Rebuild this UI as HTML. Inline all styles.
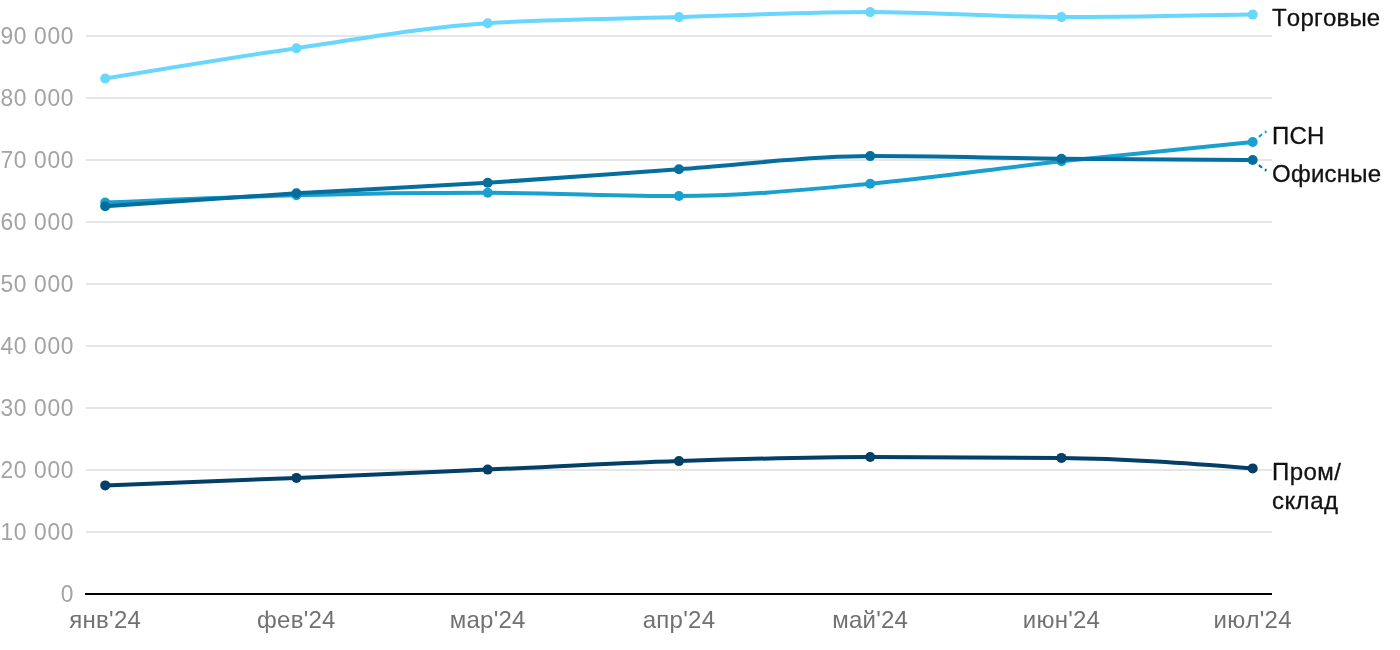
<!DOCTYPE html>
<html lang="ru"><head><meta charset="utf-8"><title>Chart</title>
<style>
html,body{margin:0;padding:0;background:#fff;}
body{width:1400px;height:650px;overflow:hidden;font-family:"Liberation Sans",sans-serif;}
svg{display:block;}
text{font-family:"Liberation Sans",sans-serif;font-size:24px;font-kerning:none;}
.yl{fill:#a3a3a3;text-anchor:end;}
.xl{fill:#717171;text-anchor:middle;letter-spacing:0.25px;}
.sl{fill:#111;stroke:#111;stroke-width:0.3px;letter-spacing:0.15px;}
.grid line{stroke:#e6e6e6;stroke-width:2;}
</style></head><body>
<svg width="1400" height="650" viewBox="0 0 1400 650">
<rect width="1400" height="650" fill="#fff"/>
<g class="grid">
<line x1="86" x2="1272" y1="532" y2="532"/>
<line x1="86" x2="1272" y1="470" y2="470"/>
<line x1="86" x2="1272" y1="408" y2="408"/>
<line x1="86" x2="1272" y1="346" y2="346"/>
<line x1="86" x2="1272" y1="284" y2="284"/>
<line x1="86" x2="1272" y1="222" y2="222"/>
<line x1="86" x2="1272" y1="160" y2="160"/>
<line x1="86" x2="1272" y1="98" y2="98"/>
<line x1="86" x2="1272" y1="36" y2="36"/>
</g>
<line x1="85" x2="1272" y1="594" y2="594" stroke="#000" stroke-width="2"/>
<g>
<text class="yl" transform="translate(74.1,601.9) scale(0.95,1.03)" letter-spacing="0.7">0</text>
<text class="yl" transform="translate(74.1,539.9) scale(0.95,1.03)" letter-spacing="0.7">10 000</text>
<text class="yl" transform="translate(74.1,477.9) scale(0.95,1.03)" letter-spacing="0.7">20 000</text>
<text class="yl" transform="translate(74.1,415.9) scale(0.95,1.03)" letter-spacing="0.7">30 000</text>
<text class="yl" transform="translate(74.1,353.9) scale(0.95,1.03)" letter-spacing="0.7">40 000</text>
<text class="yl" transform="translate(74.1,291.9) scale(0.95,1.03)" letter-spacing="0.7">50 000</text>
<text class="yl" transform="translate(74.1,229.9) scale(0.95,1.03)" letter-spacing="0.7">60 000</text>
<text class="yl" transform="translate(74.1,167.9) scale(0.95,1.03)" letter-spacing="0.7">70 000</text>
<text class="yl" transform="translate(74.1,105.9) scale(0.95,1.03)" letter-spacing="0.7">80 000</text>
<text class="yl" transform="translate(74.1,43.9) scale(0.95,1.03)" letter-spacing="0.7">90 000</text>
</g><g>
<text class="xl" x="105.2" y="627.6">янв'24</text>
<text class="xl" x="296.4" y="627.6">фев'24</text>
<text class="xl" x="487.7" y="627.6">мар'24</text>
<text class="xl" x="679.0" y="627.6">апр'24</text>
<text class="xl" x="870.2" y="627.6">май'24</text>
<text class="xl" x="1061.5" y="627.6">июн'24</text>
<text class="xl" x="1252.7" y="627.6">июл'24</text>
</g>
<path d="M1252.7,142L1265.2,131.6L1266.5,132.9" stroke="#1aa0cf" stroke-width="2" stroke-dasharray="4.2,3.8" fill="none"/>
<path d="M1252.7,160L1265.2,170.4L1266.5,169.1" stroke="#066e9c" stroke-width="2" stroke-dasharray="4.2,3.8" fill="none"/>
<g><path d="M105.20,78.55C168.95,67.99 232.70,57.42 296.45,48.20C360.20,38.98 423.95,27.27 487.70,23.20C551.45,19.13 615.20,18.95 678.95,17.10C742.70,15.25 806.45,12.10 870.20,12.10C933.95,12.10 997.70,17.10 1061.45,17.10C1125.20,17.10 1188.95,15.85 1252.70,14.60" fill="none" stroke="#68d6fd" stroke-width="4" stroke-linejoin="round" stroke-linecap="round"/>
<circle cx="105.20" cy="78.55" r="5" fill="#68d6fd"/>
<circle cx="296.45" cy="48.20" r="5" fill="#68d6fd"/>
<circle cx="487.70" cy="23.20" r="5" fill="#68d6fd"/>
<circle cx="678.95" cy="17.10" r="5" fill="#68d6fd"/>
<circle cx="870.20" cy="12.10" r="5" fill="#68d6fd"/>
<circle cx="1061.45" cy="17.10" r="5" fill="#68d6fd"/>
<circle cx="1252.70" cy="14.60" r="5" fill="#68d6fd"/>
</g>
<g><path d="M105.20,485.40C168.95,482.97 232.70,480.53 296.45,477.90C360.20,475.27 423.95,472.40 487.70,469.60C551.45,466.80 615.20,463.20 678.95,461.10C742.70,459.00 806.45,457.00 870.20,457.00C933.95,457.00 997.70,457.30 1061.45,457.90C1125.20,458.50 1188.95,463.45 1252.70,468.40" fill="none" stroke="#033f67" stroke-width="4" stroke-linejoin="round" stroke-linecap="round"/>
<circle cx="105.20" cy="485.40" r="5" fill="#033f67"/>
<circle cx="296.45" cy="477.90" r="5" fill="#033f67"/>
<circle cx="487.70" cy="469.60" r="5" fill="#033f67"/>
<circle cx="678.95" cy="461.10" r="5" fill="#033f67"/>
<circle cx="870.20" cy="457.00" r="5" fill="#033f67"/>
<circle cx="1061.45" cy="457.90" r="5" fill="#033f67"/>
<circle cx="1252.70" cy="468.40" r="5" fill="#033f67"/>
</g>
<g><path d="M105.20,202.60C168.95,199.70 232.70,196.80 296.45,195.20C360.20,193.60 423.95,192.80 487.70,192.80C551.45,192.80 615.20,196.00 678.95,196.00C742.70,196.00 806.45,189.58 870.20,183.80C933.95,178.02 997.70,168.27 1061.45,161.30C1125.20,154.33 1188.95,148.17 1252.70,142.00" fill="none" stroke="#1aa0cf" stroke-width="4" stroke-linejoin="round" stroke-linecap="round"/>
<circle cx="105.20" cy="202.60" r="5" fill="#1aa0cf"/>
<circle cx="296.45" cy="195.20" r="5" fill="#1aa0cf"/>
<circle cx="487.70" cy="192.80" r="5" fill="#1aa0cf"/>
<circle cx="678.95" cy="196.00" r="5" fill="#1aa0cf"/>
<circle cx="870.20" cy="183.80" r="5" fill="#1aa0cf"/>
<circle cx="1061.45" cy="161.30" r="5" fill="#1aa0cf"/>
<circle cx="1252.70" cy="142.00" r="5" fill="#1aa0cf"/>
</g>
<g><path d="M105.20,206.30C168.95,201.76 232.70,197.22 296.45,193.30C360.20,189.38 423.95,186.82 487.70,182.80C551.45,178.78 615.20,173.65 678.95,169.20C742.70,164.75 806.45,156.10 870.20,156.10C933.95,156.10 997.70,158.05 1061.45,158.70C1125.20,159.35 1188.95,159.67 1252.70,160.00" fill="none" stroke="#066e9c" stroke-width="4" stroke-linejoin="round" stroke-linecap="round"/>
<circle cx="105.20" cy="206.30" r="5" fill="#066e9c"/>
<circle cx="296.45" cy="193.30" r="5" fill="#066e9c"/>
<circle cx="487.70" cy="182.80" r="5" fill="#066e9c"/>
<circle cx="678.95" cy="169.20" r="5" fill="#066e9c"/>
<circle cx="870.20" cy="156.10" r="5" fill="#066e9c"/>
<circle cx="1061.45" cy="158.70" r="5" fill="#066e9c"/>
<circle cx="1252.70" cy="160.00" r="5" fill="#066e9c"/>
</g>
<text class="sl" x="1272" y="26.2" style="letter-spacing:0.2px">Торговые</text>
<text class="sl" x="1272" y="143.6">ПСН</text>
<text class="sl" x="1272" y="182" style="letter-spacing:0.25px">Офисные</text>
<text class="sl" x="1272" y="479.9" style="letter-spacing:0.45px">Пром/</text>
<text class="sl" x="1272" y="508.5" style="letter-spacing:0.55px">склад</text>
</svg></body></html>
